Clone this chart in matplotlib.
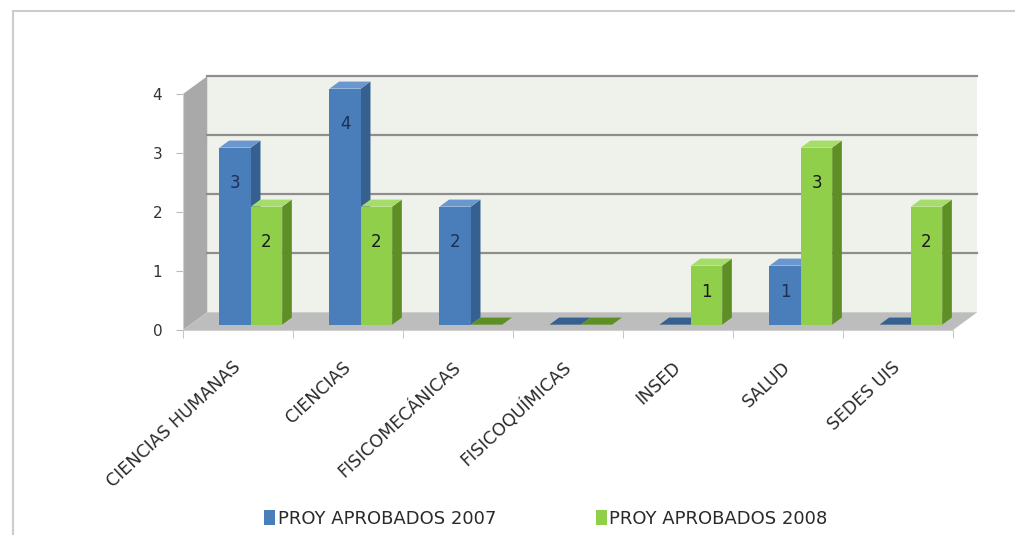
import matplotlib.pyplot as plt
from matplotlib.patches import Polygon, Rectangle

# data
categorias = ['CIENCIAS HUMANAS', 'CIENCIAS', 'FISICOMECÁNICAS', 'FISICOQUÍMICAS',
              'INSED', 'SALUD', 'SEDES UIS']
proy_2007 = [3, 4, 2, 0, 0, 1, 0]
proy_2008 = [2, 2, 0, 0, 1, 3, 2]
series_names = ['PROY APROBADOS 2007', 'PROY APROBADOS 2008']
y_ticks = [0, 1, 2, 3, 4]

plt.rcParams['font.family'] = ['DejaVu Sans']

# fake 3d depth (data units)
DX, DY = 0.22, 0.30          # depth of the whole box
FX, FY = 0.3 * DX, 0.3 * DY  # front face of bars
BX, BY = 0.4 * DX, 0.4 * DY  # depth of bars
W = 0.285
SHIFT = 0.05
n = len(categorias)
ymax = max(y_ticks)

fig = plt.figure(figsize=(10.15, 5.35), dpi=100)
ax = fig.add_axes([0.1695, 0.3722, 0.802, 0.4963])
ax.set_xlim(-0.1, n + 0.3)
ax.set_ylim(-0.1, ymax + 0.4)

# walls and floor
ax.add_patch(Polygon([(DX, DY), (n + DX, DY), (n + DX, ymax + DY), (DX, ymax + DY)],
                     facecolor='#eff2ea', edgecolor='none', zorder=0))
ax.add_patch(Polygon([(0, 0), (DX, DY), (DX, ymax + DY), (0, ymax)],
                     facecolor='#a9a9a9', edgecolor='none', zorder=0))
ax.add_patch(Polygon([(0, 0), (n, 0), (n + DX, DY), (DX, DY)],
                     facecolor='#bdbdbd', edgecolor='none', zorder=0))
for t in y_ticks[1:]:
    ax.plot([DX, n + DX], [t + DY, t + DY], color='#8e8e8e', lw=1.6, zorder=1)

colors = [('#4a7ebb', '#35608f', '#6a97cf', '#1c2f55'),
          ('#8fcf4a', '#5e8f25', '#a6dc6a', '#1a1a1a')]
series = [proy_2007, proy_2008]
handles = []
z = 2
for i in range(n):
    for s, vals in enumerate(series):
        v = vals[i]
        front, side, top, tcol = colors[s]
        x0 = i + 0.5 - W + s * W + FX + SHIFT
        y0 = FY
        if v > 0:
            ax.add_patch(Polygon([(x0 + W, y0), (x0 + W + BX, y0 + BY),
                                  (x0 + W + BX, y0 + v + BY), (x0 + W, y0 + v)],
                                 facecolor=side, edgecolor='none', zorder=z))
        ax.add_patch(Polygon([(x0, y0 + v), (x0 + BX, y0 + v + BY),
                              (x0 + W + BX, y0 + v + BY), (x0 + W, y0 + v)],
                             facecolor=top if v > 0 else side, edgecolor='none', zorder=z))
        b = ax.bar(x0, v, width=W, bottom=y0, align='edge', color=front,
                   edgecolor='none', zorder=z + 0.5, label=series_names[s])
        if i == 0:
            handles.append(b[0])
        if v > 0:
            ax.text(x0 + W / 2, y0 + max(v - 0.6, v / 2 + 0.05), str(v), ha='center',
                    va='center', fontsize=12, color=tcol, zorder=z + 1)
        z += 1

# axes decoration
for sp in ['top', 'right']:
    ax.spines[sp].set_visible(False)
ax.spines['left'].set_bounds(0, ymax)
ax.spines['bottom'].set_bounds(0, n)
ax.spines['left'].set_position(('data', 0))
ax.spines['bottom'].set_position(('data', 0))
for sp in ['left', 'bottom']:
    ax.spines[sp].set_color('#d0d0d0')
ax.set_yticks(y_ticks)
ax.set_yticklabels([str(t) for t in y_ticks], fontsize=11, color='#333333')
ax.tick_params(axis='y', length=5, color='#bbbbbb', pad=10)
ax.set_xticks(range(n + 1), minor=True)
ax.tick_params(axis='x', which='minor', length=6, color='#bbbbbb')
ax.set_xticks([i + 0.5 for i in range(n)])
ax.set_xticklabels(categorias, rotation=43, ha='right', va='center',
                   rotation_mode='anchor', fontsize=12.5, color='#2a2a2a')
ax.tick_params(axis='x', which='major', length=0, pad=25)

fig.legend(handles=handles, labels=series_names, loc='center',
           bbox_to_anchor=(546 / 1015, 16 / 535), ncol=2, frameon=False,
           fontsize=13, handlelength=0.6, handleheight=0.9, handletextpad=0.15,
           columnspacing=5.5, labelcolor='#2a2a2a')

fig.add_artist(Rectangle((13 / 1015, -0.1), 1.2, 0.1 + 524 / 535, transform=fig.transFigure,
                         fill=False, edgecolor='#cccccc', lw=1.5))

fig.savefig('out.png', dpi=100)
